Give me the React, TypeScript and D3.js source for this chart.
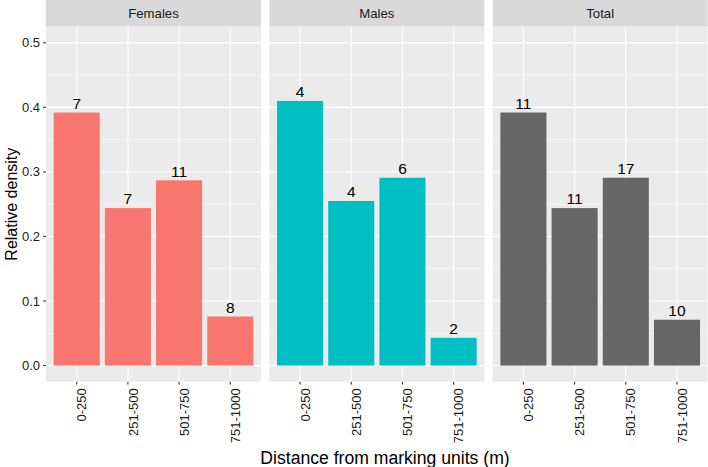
import React from "react";
import * as d3 from "d3";

const categories = ["0-250", "251-500", "501-750", "751-1000"];
const groups = ["Females", "Males", "Total"];
const females = [0.392, 0.244, 0.287, 0.076];
const males = [0.41, 0.255, 0.291, 0.043];
const total = [0.392, 0.244, 0.291, 0.071];
const femaleCounts = [7, 7, 11, 8];
const maleCounts = [4, 4, 6, 2];
const totalCounts = [11, 11, 17, 10];
const yTicks = [0, 0.1, 0.2, 0.3, 0.4, 0.5];
const yMinor = [0.05, 0.15, 0.25, 0.35, 0.45];
const colors = ["#F8766D", "#00BFC4", "#666666"];

const W = 708;
const H = 467;
const panelTop = 26.7;
const panelBottom = 381.7;
const font = "'Liberation Sans', Arial, Helvetica, sans-serif";

export default function App() {
  const values = [females, males, total];
  const counts = [femaleCounts, maleCounts, totalCounts];

  const facet = d3
    .scaleBand<string>()
    .domain(groups)
    .range([46, 707.7])
    .paddingInner(0.0374)
    .paddingOuter(0);
  const pw = facet.bandwidth();
  const x = d3
    .scaleBand<string>()
    .domain(categories)
    .range([0, pw])
    .paddingInner(0.1)
    .paddingOuter(0.15);
  const y = d3.scaleLinear().domain([-0.025, 0.525]).range([panelBottom, panelTop]);

  return (
    <svg
      width={W}
      height={H}
      style={{ position: "absolute", left: 0, top: 0, background: "#fff" }}
      fontFamily={font}
    >
      {groups.map((g, gi) => {
        const px = facet(g)!;
        return (
          <g key={g} transform={`translate(${px},0)`}>
            <rect x={0} y={0} width={pw} height={panelTop} fill="#D9D9D9" />
            <text
              x={pw / 2}
              y={panelTop / 2}
              dy="0.36em"
              textAnchor="middle"
              fontSize={13.2}
              fill="#1A1A1A"
            >
              {g}
            </text>
            <rect x={0} y={panelTop} width={pw} height={panelBottom - panelTop} fill="#EBEBEB" />
            {yMinor.map((t) => (
              <line key={"m" + t} x1={0} x2={pw} y1={y(t)} y2={y(t)} stroke="#fff" strokeWidth={0.55} />
            ))}
            {yTicks.map((t) => (
              <line key={"M" + t} x1={0} x2={pw} y1={y(t)} y2={y(t)} stroke="#fff" strokeWidth={1.1} />
            ))}
            {categories.map((c) => {
              const cx = x(c)! + x.bandwidth() / 2;
              return (
                <line key={"v" + c} x1={cx} x2={cx} y1={panelTop} y2={panelBottom} stroke="#fff" strokeWidth={1.1} />
              );
            })}
            {categories.map((c, i) => {
              const v = values[gi][i];
              const cx = x(c)! + x.bandwidth() / 2;
              return (
                <g key={"b" + c}>
                  <rect x={x(c)!} y={y(v)} width={x.bandwidth()} height={y(0) - y(v)} fill={colors[gi]} />
                  <text x={cx} y={y(v) - 3.6} textAnchor="middle" fontSize={15.5} fill="#000">
                    {counts[gi][i]}
                  </text>
                </g>
              );
            })}
            {categories.map((c) => {
              const cx = x(c)! + x.bandwidth() / 2;
              return (
                <g key={"t" + c}>
                  <line x1={cx} x2={cx} y1={panelBottom} y2={panelBottom + 2.8} stroke="#333" strokeWidth={1.1} />
                  <text
                    transform={`translate(${cx + 9.6},${panelBottom + 6.6}) rotate(-90)`}
                    textAnchor="end"
                    fontSize={13}
                    fill="#1A1A1A"
                  >
                    {c}
                  </text>
                </g>
              );
            })}
          </g>
        );
      })}
      {yTicks.map((t) => (
        <g key={"yt" + t}>
          <line x1={43.2} x2={46} y1={y(t)} y2={y(t)} stroke="#333" strokeWidth={1.1} />
          <text x={40} y={y(t)} dy="0.35em" textAnchor="end" fontSize={13} fill="#1A1A1A">
            {d3.format(".1f")(t)}
          </text>
        </g>
      ))}
      <text
        transform={`translate(${17},${(panelTop + panelBottom) / 2}) rotate(-90)`}
        textAnchor="middle"
        fontSize={16}
        fill="#000"
      >
        Relative density
      </text>
      <text x={385} y={463.5} textAnchor="middle" fontSize={17.6} fill="#000">
        Distance from marking units (m)
      </text>
    </svg>
  );
}
